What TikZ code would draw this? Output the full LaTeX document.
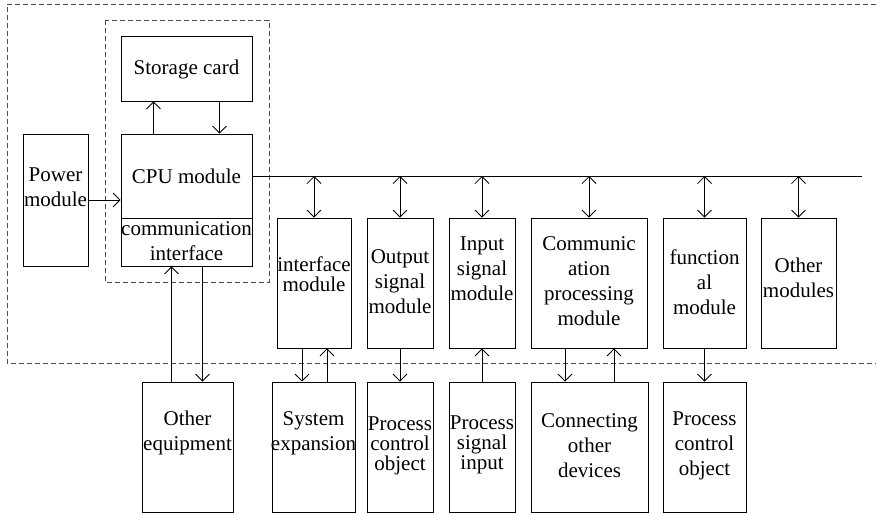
\documentclass[tikz,border=0pt]{standalone}
\usepackage{fontspec}
\setmainfont{Liberation Serif}
\usetikzlibrary{arrows.meta}

\begin{document}
\begin{tikzpicture}[x=1pt,y=-1pt,line width=0.8pt,
    box/.style={draw,inner sep=0pt},
    txt/.style={align=center,inner sep=0pt,font=\fontsize{21}{25}\selectfont},
    tight/.style={font=\fontsize{21}{20}\selectfont},
    link/.style={-{Straight Barb[length=7pt,width=14pt]}},
    dual/.style={{Straight Barb[length=7pt,width=14pt]}-{Straight Barb[length=7pt,width=14pt]}},
    frame/.style={draw=black!70,dash pattern=on 5pt off 3pt}]
    \useasboundingbox (0,0) rectangle (876,514);
    % 虚线框
    \draw[frame] (876,4) -| (7,363) -- (876,363);
    \draw[frame] (105,20) rectangle (269,282);
    % 电源和CPU
    \node[box,minimum width=65,minimum height=132] (power) at (55.5,200) {};
    \node[txt] (powertext) at (55.5,187) {Power\\module};
    \node[box,minimum width=131,minimum height=65] (card) at (186.5,68.5) {};
    \node[txt] (cardtext) at (186.5,69) {Storage card};
    \node[box,minimum width=131,minimum height=84] (cpu) at (186.5,176) {};
    \node[txt] (cputext) at (186.5,176) {CPU module};
    \node[box,minimum width=131,minimum height=48] (comm) at (186.5,242) {};
    \node[txt] (commtext) at (186.5,241) {communication\\interface};
    % CPU内部连线
    \draw[link] (power.east |- 0,200) -- (cpu.west |- 0,200);
    \draw[link] ([xshift=-33]cpu.north) -- ([xshift=-33]card.south);
    \draw[link] ([xshift=33]card.south) -- ([xshift=33]cpu.north);
    % 总线
    \coordinate (busend) at (862,176);
    \draw (cpu.east) -- (busend);
    % 各模块
    \node[box,minimum width=74,minimum height=130] (ifm) at (314,283) {};
    \node[txt,tight] (ifmtext) at (314,274) {interface\\module};
    \node[box,minimum width=66,minimum height=130] (outm) at (400,283) {};
    \node[txt] (outtext) at (400,282) {Output\\signal\\module};
    \node[box,minimum width=66,minimum height=130] (inm) at (482,283) {};
    \node[txt] (intext) at (482,269) {Input\\signal\\module};
    \node[box,minimum width=116,minimum height=130] (cpm) at (589,283) {};
    \node[txt] (cptext) at (589,281) {Communic\\ation\\processing\\module};
    \node[box,minimum width=83,minimum height=130] (fun) at (704.5,283) {};
    \node[txt] (funtext) at (704.5,282) {function\\al\\module};
    \node[box,minimum width=75,minimum height=130] (oth) at (798.5,283) {};
    \node[txt] (othtext) at (798.5,278) {Other\\modules};
    % 总线双向箭头
    \draw[dual] (ifm.north |- busend) -- (ifm.north);
    \draw[dual] (outm.north |- busend) -- (outm.north);
    \draw[dual] (inm.north |- busend) -- (inm.north);
    \draw[dual] (cpm.north |- busend) -- (cpm.north);
    \draw[dual] (fun.north |- busend) -- (fun.north);
    \draw[dual] (oth.north |- busend) -- (oth.north);
    % 外部设备
    \node[box,minimum width=91,minimum height=130] (equip) at (187.5,447) {};
    \node[txt] (equiptext) at (187.5,433) {Other\\equipment};
    \node[box,minimum width=83,minimum height=130] (expand) at (313.5,447) {};
    \node[txt] (exptext) at (313.5,433) {System\\expansion};
    \node[box,minimum width=66,minimum height=130] (pco) at (400,447) {};
    \node[txt,tight] (pcotext) at (400,446) {Process\\control\\object};
    \node[box,minimum width=66,minimum height=130] (psi) at (482,447) {};
    \node[txt,tight] (psitext) at (482,445) {Process\\signal\\input};
    \node[box,minimum width=117,minimum height=130] (dev) at (589.5,447) {};
    \node[txt] (devtext) at (589.5,446) {Connecting\\other\\devices};
    \node[box,minimum width=83,minimum height=130] (pcb) at (704.5,447) {};
    \node[txt] (pcbtext) at (704.5,446) {Process\\control\\object};
    % 上下连线
    \draw[link] ([xshift=-16]equip.north) -- ([xshift=-16]equip.north |- comm.south);
    \draw[link] ([xshift=15]equip.north |- comm.south) -- ([xshift=15]equip.north);
    \draw[link] ([xshift=-12]ifm.south) -- ([xshift=-12]ifm.south |- expand.north);
    \draw[link] ([xshift=13]ifm.south |- expand.north) -- ([xshift=13]ifm.south);
    \draw[link] (outm.south) -- (pco.north);
    \draw[link] (psi.north) -- (inm.south);
    \draw[link] ([xshift=-24]cpm.south) -- ([xshift=-24]cpm.south |- dev.north);
    \draw[link] ([xshift=25]cpm.south |- dev.north) -- ([xshift=25]cpm.south);
    \draw[link] (fun.south) -- (pcb.north);
\end{tikzpicture}
\end{document}
